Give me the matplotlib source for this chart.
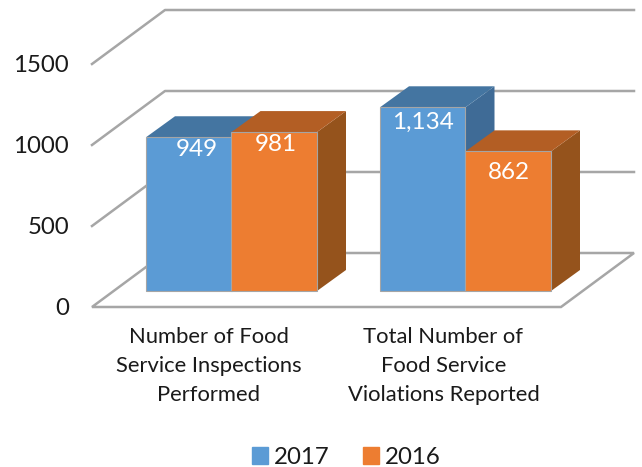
import matplotlib
matplotlib.use('Agg')
import matplotlib.pyplot as plt
from matplotlib.patches import Polygon, Patch

plt.rcParams['font.family'] = ['Lato', 'DejaVu Sans']

categories = ['Number of Food\nService Inspections\nPerformed',
              'Total Number of\nFood Service\nViolations Reported']
series_names = ['2017', '2016']
values_2017 = [949, 1134]
values_2016 = [981, 862]
value_labels_2017 = ['949', '1,134']
value_labels_2016 = ['981', '862']
yticks = [0, 500, 1000, 1500]

BLUE = ('#5b9bd5', '#4475a1', '#3f6b96')    # front, top, side
ORANGE = ('#ed7d31', '#b35e24', '#95531c')
GRID = '#a6a6a6'

# 1 px in data units
PX_X = 1 / 234
PX_Y = 1 / 0.162
DX, DY = 29 * PX_X, 21 * PX_Y        # bar depth
WALL_DX, WALL_DY = 73 * PX_X, 54 * PX_Y    # floor depth
BAR_W = 85.5 * PX_X
BASE = 16 * PX_Y                     # bars stand a little behind the floor edge

fig = plt.figure(figsize=(6.42, 4.67), dpi=100)
ax = fig.add_axes([0, 0, 1, 1])
ax.set_xlim(-231.5 * PX_X, 410.5 * PX_X)
ax.set_ylim(-160 * PX_Y, 307 * PX_Y)
ax.axis('off')

# Floor and walls
x0, x1 = (92 - 231.5) * PX_X, (561 - 231.5) * PX_X
ax.add_patch(Polygon([(x0, 0), (x1, 0), (x1 + WALL_DX, WALL_DY), (x0 + WALL_DX, WALL_DY)],
                     closed=True, fc='white', ec=GRID, lw=1.8, zorder=1))
for t in yticks[1:]:
    ax.plot([x0, x0 + WALL_DX, x1 + WALL_DX], [t, t + WALL_DY, t + WALL_DY],
            color=GRID, lw=1.8, zorder=1)
for t in yticks:
    ax.text(x0 - 23 * PX_X, t - 1.5 * PX_Y, str(t), ha='right', va='center', fontsize=17.3, color='#1a1a1a')


def draw_bar(left, height, cols, z):
    right = left + BAR_W
    top = BASE + height
    ax.add_patch(Polygon([(right, BASE), (right + DX, BASE + DY), (right + DX, top + DY), (right, top)],
                         closed=True, fc=cols[2], ec='none', zorder=z))
    ax.add_patch(Polygon([(left, top), (right, top), (right + DX, top + DY), (left + DX, top + DY)],
                         closed=True, fc=cols[1], ec='none', zorder=z))
    ax.bar(left, height, BAR_W, bottom=BASE, align='edge', color=cols[0],
           edgecolor='#a5a5a5', linewidth=0.8, zorder=z + 0.1)


# offsets of the value labels from the bar centre / top, px
offs_2017 = [(8, -12), (0, -15.5)]
offs_2016 = [(2, -12.5), (1, -21)]
label_shift = [-22.5, -22]    # category labels sit left of the group centre, px
for i in range(len(categories)):
    draw_bar(i - BAR_W, values_2017[i], BLUE, 2)
    draw_bar(i, values_2016[i], ORANGE, 3)
    ax.annotate(value_labels_2017[i], (i - BAR_W / 2, BASE + values_2017[i]),
                xytext=(offs_2017[i][0] * 0.72, offs_2017[i][1] * 0.72), textcoords='offset points',
                ha='center', va='center', color='white', fontsize=17.5, zorder=5)
    ax.annotate(value_labels_2016[i], (i + BAR_W / 2, BASE + values_2016[i]),
                xytext=(offs_2016[i][0] * 0.72, offs_2016[i][1] * 0.72), textcoords='offset points',
                ha='center', va='center', color='white', fontsize=17.5, zorder=5)
    ax.text(i + label_shift[i] * PX_X, -59 * PX_Y, categories[i],
            ha='center', va='center', fontsize=15.8, color='#1a1a1a', linespacing=1.55)

handles = [Patch(color=BLUE[0], label=series_names[0]), Patch(color=ORANGE[0], label=series_names[1])]
ax.legend(handles=handles, loc='center', bbox_to_anchor=(346.5 / 642, 1 - 457.5 / 467), ncol=2,
          frameon=False, fontsize=17.3, handlelength=0.66, handleheight=0.66, handletextpad=0.25,
          columnspacing=1.4, borderpad=0, labelcolor='#1a1a1a')

fig.savefig('out.png', dpi=100)
